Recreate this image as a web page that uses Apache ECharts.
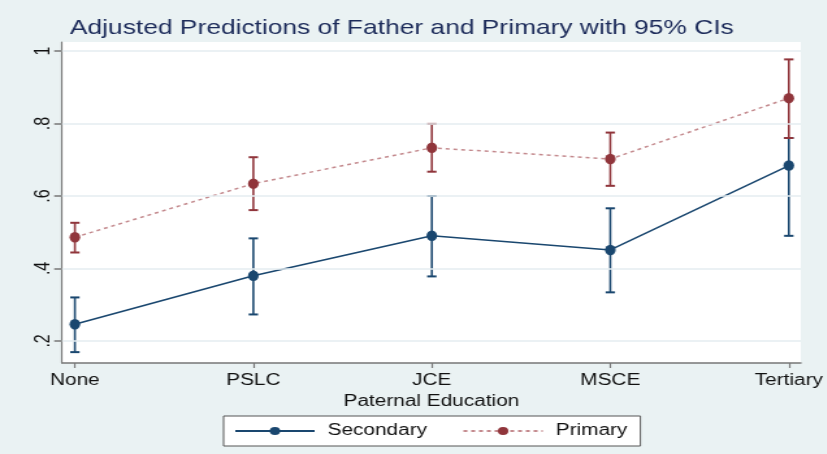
<!DOCTYPE html>
<html>
<head>
<meta charset="utf-8">
<script src="https://cdn.jsdelivr.net/npm/echarts@6/dist/echarts.min.js"></script>
<style>
html,body{margin:0;padding:0;background:#eaf2f3;overflow:hidden;width:827px;height:454px;}
#main{width:636px;height:454px;transform:scaleX(1.3);transform-origin:0 0;}
</style>
</head>
<body>
<div id="main"></div>
<script>
var categories = ['None', 'PSLC', 'JCE', 'MSCE', 'Tertiary'];
var secondaryMean = [0.246, 0.380, 0.490, 0.451, 0.684];
var secondaryLow  = [0.169, 0.273, 0.378, 0.334, 0.490];
var secondaryHigh = [0.320, 0.483, 0.600, 0.566, 0.760];
var primaryMean = [0.486, 0.634, 0.733, 0.702, 0.870];
var primaryLow  = [0.444, 0.561, 0.667, 0.628, 0.760];
var primaryHigh = [0.526, 0.707, 0.799, 0.775, 0.977];
var yTicks = [0.2, 0.4, 0.6, 0.8, 1];

var navy = '#1a476f', maroon = '#90353b';
var font = 'Liberation Sans, Arial, sans-serif';

function ciData(lo, hi) {
  return categories.map(function (c, i) { return [i, lo[i], hi[i]]; });
}
function ciRender(color) {
  return function (params, api) {
    var x = api.value(0);
    var p1 = api.coord([x, api.value(1)]);
    var p2 = api.coord([x, api.value(2)]);
    var w = 3.6;
    return {
      type: 'group',
      children: [
        { type: 'line', shape: { x1: p1[0], y1: p1[1], x2: p2[0], y2: p2[1] }, style: { stroke: color, lineWidth: 1.6 } },
        { type: 'line', shape: { x1: p1[0] - w, y1: p1[1], x2: p1[0] + w, y2: p1[1] }, style: { stroke: color, lineWidth: 2 } },
        { type: 'line', shape: { x1: p2[0] - w, y1: p2[1], x2: p2[0] + w, y2: p2[1] }, style: { stroke: color, lineWidth: 2 } }
      ]
    };
  };
}
function pts(arr) { return arr.map(function (v, i) { return [i, v]; }); }

var chart = echarts.init(document.getElementById('main'));
chart.setOption({
  backgroundColor: '#eaf2f3',
  animation: false,
  title: {
    text: 'Adjusted Predictions of Father and Primary with 95% CIs',
    left: 48.8, top: 13,
    textStyle: { fontFamily: font, fontSize: 20.3, fontWeight: 'normal', color: '#1c2b5a' }
  },
  grid: { left: 47.7, top: 42, right: 16.9, bottom: 91, show: true, backgroundColor: '#ffffff', borderWidth: 0 },
  legend: {
    bottom: 8, left: 172,
    backgroundColor: '#ffffff', borderColor: '#555', borderWidth: 1,
    padding: [7, 10, 7, 8],
    itemWidth: 61, itemHeight: 10, itemGap: 27,
    textStyle: { fontFamily: font, fontSize: 16, color: '#111', padding: [0, 0, 0, 5] },
    data: ['Secondary', 'Primary']
  },
  xAxis: {
    type: 'value', min: -0.072, max: 4.067,
    name: 'Paternal Education', nameLocation: 'middle', nameGap: 28,
    nameTextStyle: { fontFamily: font, fontSize: 16, color: '#111' },
    axisLine: { show: true, lineStyle: { color: '#777', width: 1.5 } },
    axisTick: { show: true, length: 5, customValues: [0, 1, 2, 3, 4], lineStyle: { color: '#777', width: 1.2 } },
    axisLabel: {
      customValues: [0, 1, 2, 3, 4], margin: 10,
      fontFamily: font, fontSize: 16, color: '#111',
      formatter: function (v) { return categories[Math.round(v)]; }
    },
    splitLine: { show: false }
  },
  yAxis: {
    type: 'value', min: 0.139, max: 1.025,
    axisLine: { show: true, onZero: false, lineStyle: { color: '#777', width: 1.2 } },
    axisTick: { show: true, length: 6, customValues: yTicks, lineStyle: { color: '#777', width: 1.5 } },
    axisLabel: {
      customValues: yTicks, rotate: 90, margin: 6,
      fontFamily: font, fontSize: 16, color: '#111',
      formatter: function (v) { return v === 1 ? '1' : String(Math.round(v * 10) / 10).replace('0.', '.'); }
    },
    splitLine: { show: false }
  },
  series: [
    {
      type: 'line', name: 'grid', data: [], silent: true,
      markLine: {
        silent: true, symbol: 'none', label: { show: false },
        lineStyle: { color: '#e4edf0', width: 1.5, type: 'solid' },
        data: yTicks.map(function (v) { return { yAxis: v }; })
      }
    },
    {
      type: 'custom', name: 'secCI', renderItem: ciRender(navy),
      data: ciData(secondaryLow, secondaryHigh), encode: { x: 0, y: [1, 2] }, z: 3
    },
    {
      type: 'custom', name: 'priCI', renderItem: ciRender(maroon),
      data: ciData(primaryLow, primaryHigh), encode: { x: 0, y: [1, 2] }, z: 3
    },
    {
      type: 'line', name: 'Secondary', data: pts(secondaryMean),
      symbol: 'circle', symbolSize: [8.2, 10.5], z: 4,
      itemStyle: { color: navy },
      lineStyle: { color: navy, width: 1.5, type: 'solid' }
    },
    {
      type: 'line', name: 'Primary', data: pts(primaryMean),
      symbol: 'circle', symbolSize: [8.2, 10.5], z: 4,
      itemStyle: { color: maroon },
      lineStyle: { color: '#c48a8e', width: 1.5, type: [3, 3] }
    }
  ]
});
</script>
</body>
</html>
